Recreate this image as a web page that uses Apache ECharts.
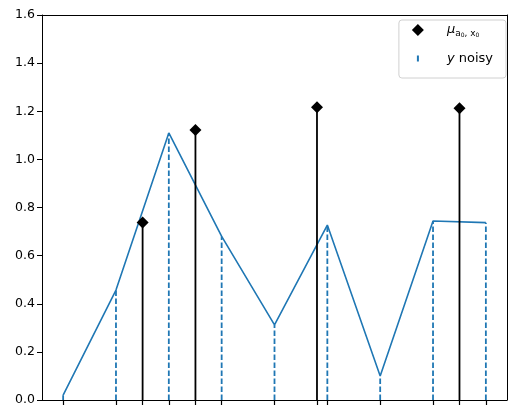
<!DOCTYPE html>
<html><head><meta charset="utf-8">
<script src="https://cdn.jsdelivr.net/npm/echarts@6/dist/echarts.min.js"></script>
<style>html,body{margin:0;padding:0;background:#fff}#c{width:516px;height:418px}</style>
</head><body><div id="c"></div>
<script>
const noisyX = [0, 0.125, 0.25, 0.375, 0.5, 0.625, 0.75, 0.875, 1.0];
const noisyY = [0.02, 0.457, 1.11, 0.68, 0.312, 0.727, 0.10, 0.744, 0.737];
const muX = [0.188, 0.313, 0.6005, 0.9376];
const muY = [0.738, 1.122, 1.217, 1.212];
const yMin = 0, yMax = 1.6, yStep = 0.2;
const xMin = -0.05, xMax = 1.05;

const BLUE = '#1f77b4';
const chart = echarts.init(document.getElementById('c'), null, {renderer: 'canvas'});
const FONT = 'DejaVu Sans';
const frameAxis = {show: true, onZero: false, lineStyle: {color: '#000', width: 1}};

const option = {
  animation: false,
  textStyle: {fontFamily: FONT},
  grid: {left: 42, right: 9, top: 15, bottom: 18},
  xAxis: [{
    type: 'value', min: xMin, max: xMax,
    axisLine: frameAxis,
    axisTick: {show: true, length: 5, lineStyle: {color: '#000', width: 1.2}, customValues: noisyX.concat(muX)},
    axisLabel: {show: false},
    splitLine: {show: false}
  }, {
    type: 'value', position: 'top', min: xMin, max: xMax,
    axisLine: frameAxis, axisTick: {show: false}, axisLabel: {show: false}, splitLine: {show: false}
  }],
  yAxis: [{
    type: 'value', min: yMin, max: yMax, interval: yStep,
    axisLine: frameAxis,
    axisTick: {show: true, length: 5, lineStyle: {color: '#000', width: 1}},
    axisLabel: {color: '#000', fontSize: 12.5, fontFamily: FONT, margin: 7, formatter: v => v.toFixed(1)},
    splitLine: {show: false}
  }, {
    type: 'value', position: 'right', min: yMin, max: yMax, interval: yStep,
    axisLine: frameAxis, axisTick: {show: false}, axisLabel: {show: false}, splitLine: {show: false}
  }],
  legend: {
    orient: 'vertical', right: 10, top: 20,
    data: [
      {name: 'mu', icon: 'diamond'},
      {name: 'noisy', icon: 'path://M5,3h2v6h-2z M0,0h0.01v0.01h-0.01z M11.99,11.99h0.01v0.01h-0.01z'}
    ],
    itemWidth: 12, itemHeight: 12, itemGap: 14,
    padding: [2, 13, 13, 13],
    borderColor: '#d0d0d0', borderWidth: 1, borderRadius: 3,
    backgroundColor: 'rgba(255,255,255,0.8)',
    formatter: n => n === 'mu' ? '{m|μ}{s|a}{z|0}{s|, x}{z|0}' : '{i|y} noisy',
    textStyle: {
      color: '#000', fontSize: 13, fontFamily: FONT, padding: [0, 0, 0, 18],
      rich: {
        m: {fontSize: 13, fontStyle: 'italic', fontFamily: FONT, color: '#000', lineHeight: 18, verticalAlign: 'middle'},
        s: {fontSize: 9, fontFamily: FONT, color: '#000', lineHeight: 18, verticalAlign: 'middle', padding: [7, 0, 0, 0]},
        z: {fontSize: 6, fontFamily: FONT, color: '#000', lineHeight: 18, verticalAlign: 'middle', padding: [10, 0, 0, 0]},
        i: {fontSize: 13, fontStyle: 'italic', fontFamily: FONT, color: '#000'}
      }
    }
  },
  series: [
    {
      name: 'line', type: 'line', data: noisyX.map((x, i) => [x, noisyY[i]]),
      showSymbol: false, lineStyle: {color: BLUE, width: 1.6}, itemStyle: {color: BLUE}, z: 2
    },
    {
      name: 'noisy', type: 'custom', data: noisyX.map((x, i) => [x, noisyY[i]]),
      itemStyle: {color: BLUE}, z: 3,
      renderItem: (params, api) => {
        const p0 = api.coord([api.value(0), 0]);
        const p1 = api.coord([api.value(0), api.value(1)]);
        return {type: 'line', shape: {x1: p0[0], y1: p0[1], x2: p1[0], y2: p1[1]},
          style: {stroke: BLUE, lineWidth: 1.8, lineDash: [5.5, 2.5], fill: null}};
      }
    },
    {
      name: 'mu', type: 'custom', data: muX.map((x, i) => [x, muY[i]]),
      itemStyle: {color: '#000'}, z: 4,
      renderItem: (params, api) => {
        const p0 = api.coord([api.value(0), 0]);
        const p1 = api.coord([api.value(0), api.value(1)]);
        const r = 6;
        return {type: 'group', children: [
          {type: 'line', shape: {x1: p0[0], y1: p0[1], x2: p1[0], y2: p1[1]}, style: {stroke: '#000', lineWidth: 1.8}},
          {type: 'polygon', shape: {points: [[p1[0], p1[1] - r], [p1[0] + r, p1[1]], [p1[0], p1[1] + r], [p1[0] - r, p1[1]]]}, style: {fill: '#000'}}
        ]};
      }
    }
  ]
};
chart.setOption(option);
</script></body></html>
